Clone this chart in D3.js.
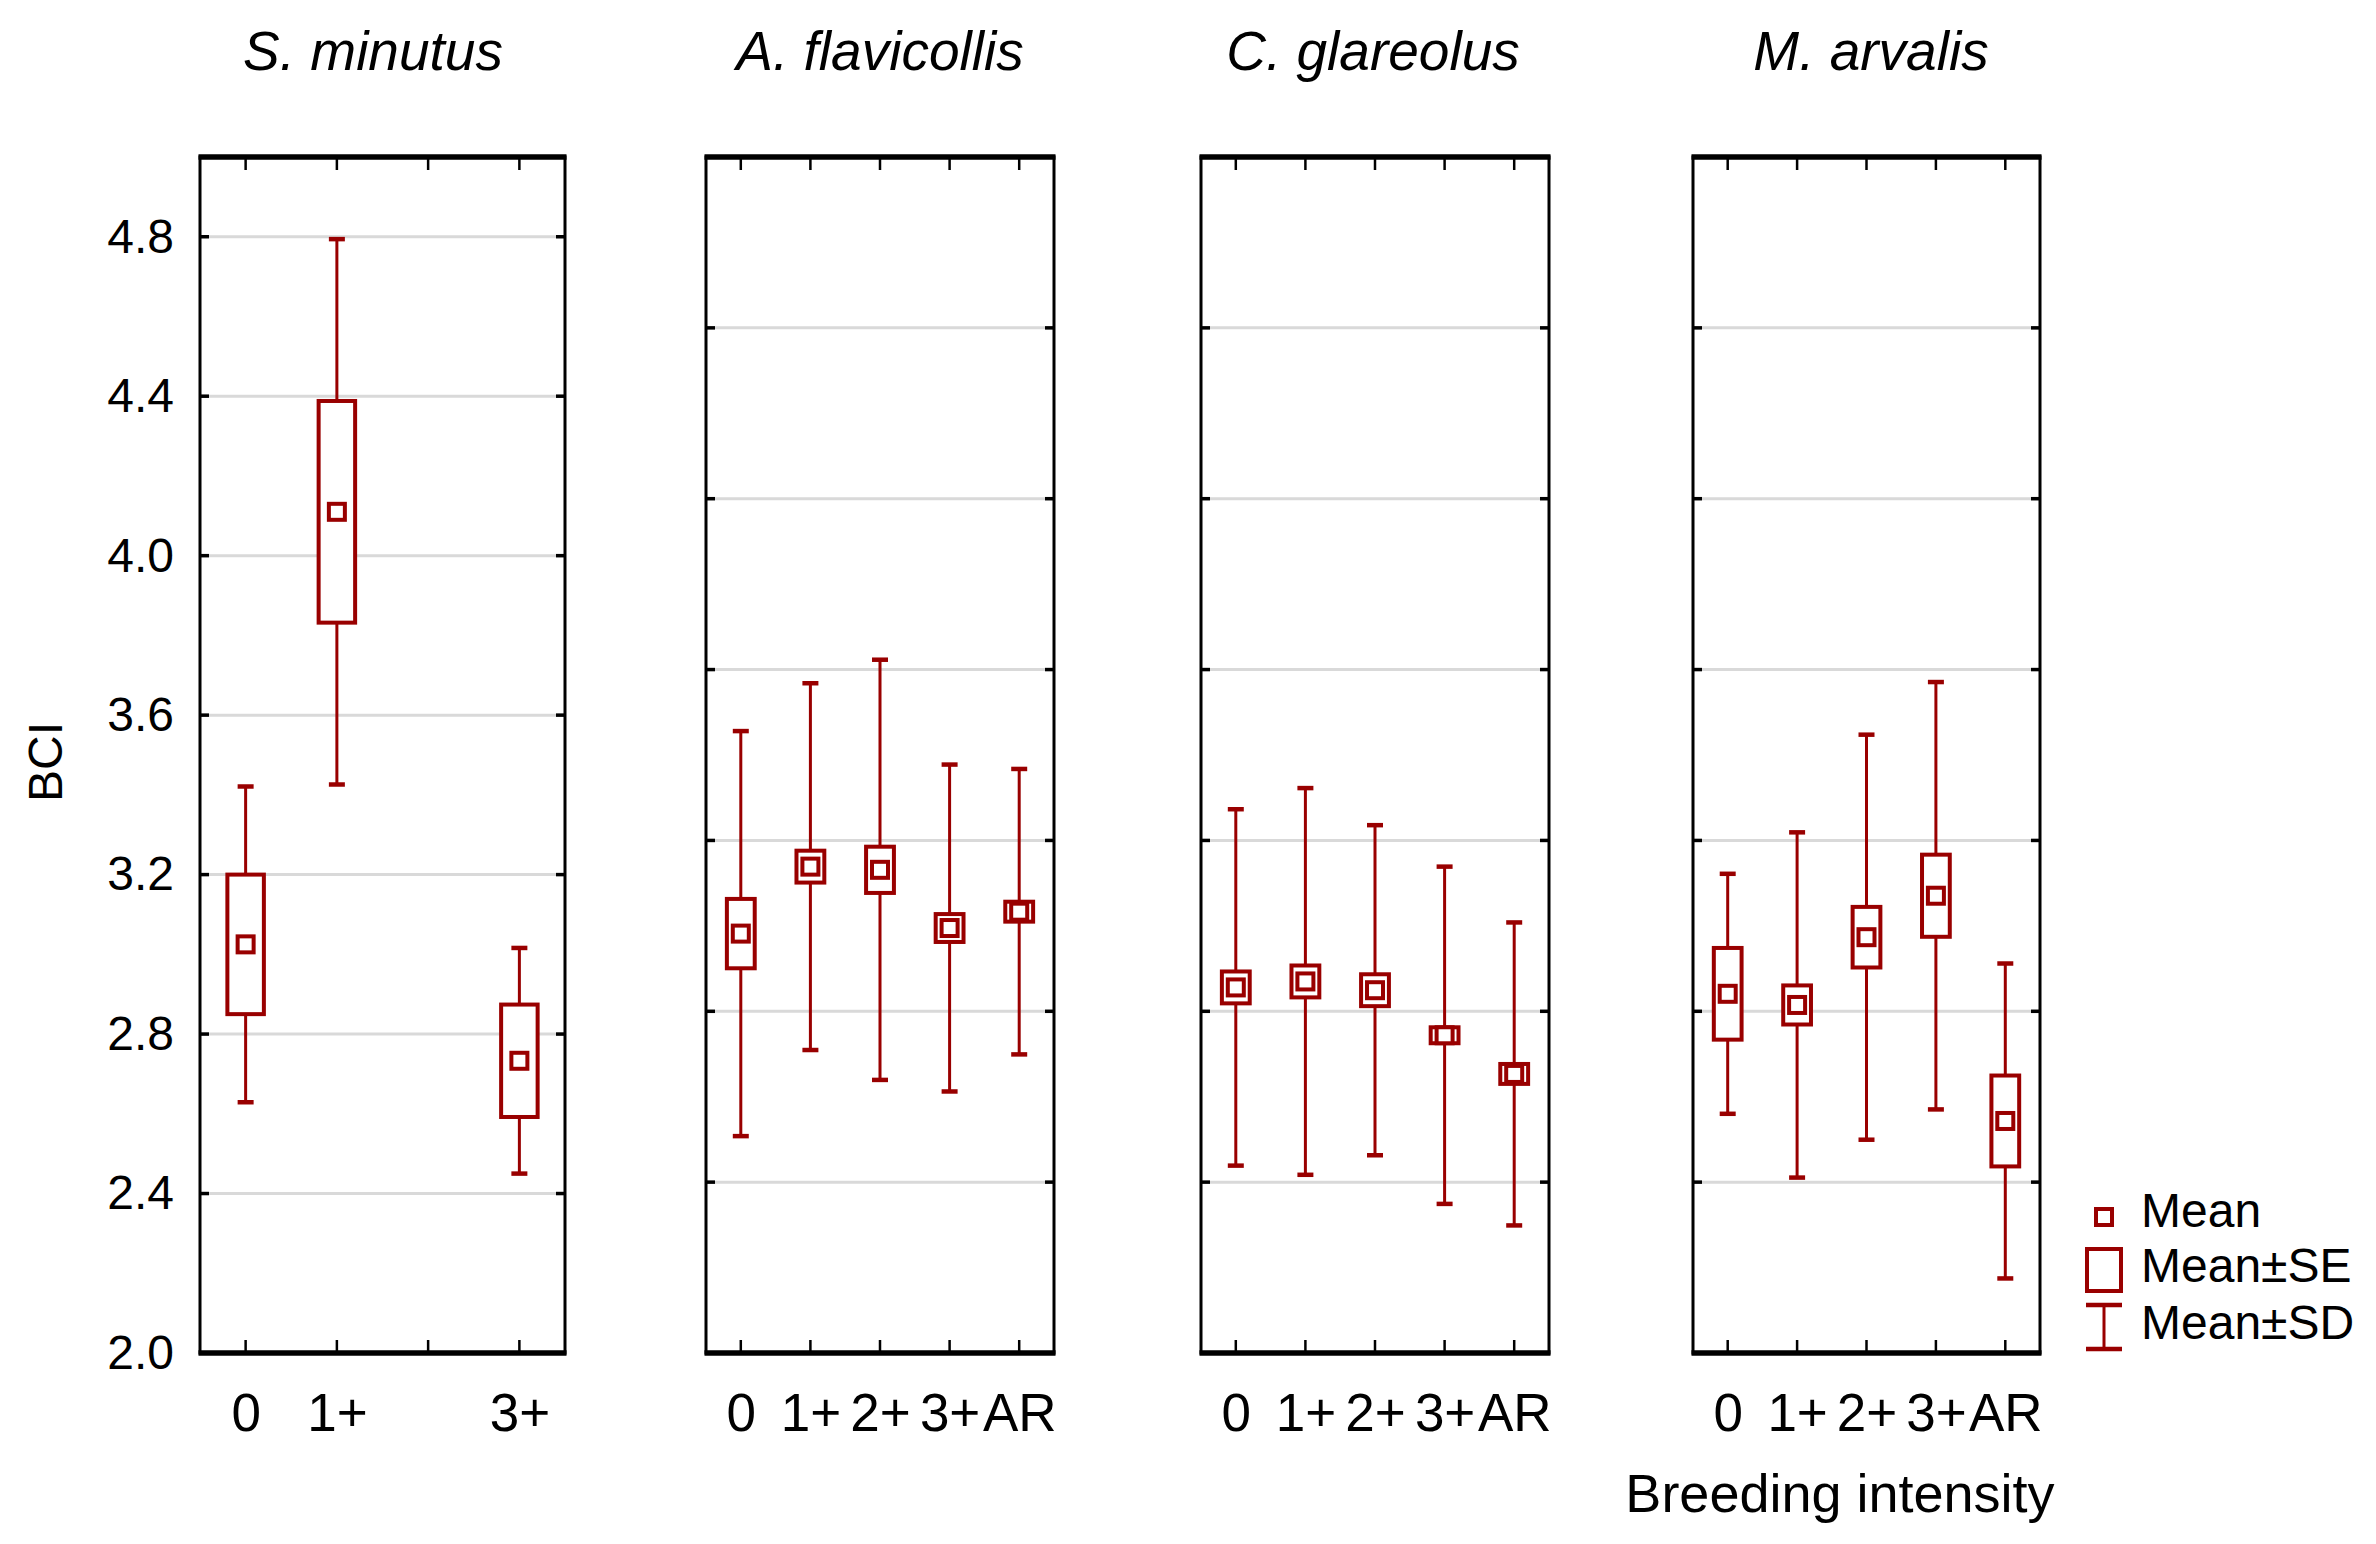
<!DOCTYPE html>
<html>
<head>
<meta charset="utf-8">
<script src="https://cdn.jsdelivr.net/npm/d3@7"></script>
<style>
  body { margin: 0; background: #fff; }
  text { font-family: "Liberation Sans", Arial, sans-serif; }
</style>
</head>
<body>
<svg id="chart"></svg>
<script>
// ---- data ----
const species = ["S. minutus", "A. flavicollis", "C. glareolus", "M. arvalis"];
const catsMinutus = ["0", "1+", "2+", "3+"];
const catsOther = ["0", "1+", "2+", "3+", "AR"];
const labelsMinutus = ["0", "1+", "3+"]; // no 2+ group for S. minutus

const meanSm = [3.025, 4.110, null, 2.733];
const seSm   = [0.175, 0.278, null, 0.141];
const sdSm   = [0.396, 0.684, null, 0.283];

const meanAf = [3.052, 3.220, 3.212, 3.066, 3.107];
const seAf   = [0.087, 0.040, 0.058, 0.035, 0.025];
const sdAf   = [0.508, 0.460, 0.527, 0.410, 0.358];

const meanCg = [2.917, 2.932, 2.910, 2.797, 2.700];
const seCg   = [0.040, 0.040, 0.040, 0.020, 0.025];
const sdCg   = [0.447, 0.485, 0.414, 0.423, 0.380];

const meanMa = [2.901, 2.873, 3.043, 3.147, 2.582];
const seMa   = [0.115, 0.049, 0.076, 0.103, 0.114];
const sdMa   = [0.301, 0.433, 0.508, 0.536, 0.395];

const yTicks = [2.0, 2.4, 2.8, 3.2, 3.6, 4.0, 4.4, 4.8];
// the other three panels have their grid split in sevenths of the range
const gridOther = [2.4286, 2.8571, 3.2857, 3.7143, 4.1429, 4.5714];

const legendItems = ["Mean", "Mean±SE", "Mean±SD"];

// ---- layout ----
const width = 2376, height = 1544;
const yTop = 157, yBottom = 1353;
const red = "#990000";

const panelX = [[200, 565], [706, 1054], [1201, 1549], [1693, 2040]];
const titleX = [373, 880, 1373, 1871];

const panels = [
  { name: species[0], cats: catsMinutus, labels: labelsMinutus, mean: meanSm, se: seSm, sd: sdSm, grid: yTicks },
  { name: species[1], cats: catsOther, labels: catsOther, mean: meanAf, se: seAf, sd: sdAf, grid: gridOther },
  { name: species[2], cats: catsOther, labels: catsOther, mean: meanCg, se: seCg, sd: sdCg, grid: gridOther },
  { name: species[3], cats: catsOther, labels: catsOther, mean: meanMa, se: seMa, sd: sdMa, grid: gridOther }
];

const svg = d3.select("#chart")
  .attr("width", width)
  .attr("height", height);

const y = d3.scaleLinear().domain([2, 5]).range([yBottom, yTop]);

panels.forEach((p, i) => {
  const [x0, x1] = panelX[i];
  const x = d3.scalePoint().domain(p.cats).range([x0, x1]).padding(0.5);
  const g = svg.append("g");

  // grid lines
  g.selectAll(".grid")
    .data(p.grid)
    .join("line")
    .attr("class", "grid")
    .attr("x1", x0).attr("x2", x1)
    .attr("y1", d => y(d)).attr("y2", d => y(d))
    .attr("stroke", "#d9d9d9")
    .attr("stroke-width", 3);

  // little black marks where grid meets the frame
  [x0, x1].forEach(ex => {
    g.selectAll(null)
      .data(p.grid)
      .join("line")
      .attr("x1", ex).attr("x2", ex === x0 ? ex + 9 : ex - 9)
      .attr("y1", d => y(d)).attr("y2", d => y(d))
      .attr("stroke", "#000")
      .attr("stroke-width", 3.5);
  });

  // frame
  g.append("rect")
    .attr("x", x0).attr("y", yTop)
    .attr("width", x1 - x0).attr("height", yBottom - yTop)
    .attr("fill", "none")
    .attr("stroke", "#000")
    .attr("stroke-width", 3);
  [yTop, yBottom].forEach(yy => {
    g.append("line")
      .attr("x1", x0 - 1.5).attr("x2", x1 + 1.5)
      .attr("y1", yy).attr("y2", yy)
      .attr("stroke", "#000")
      .attr("stroke-width", 5.5);
  });

  // category ticks, top and bottom, pointing inward
  g.selectAll(".tickTop")
    .data(p.cats)
    .join("line")
    .attr("x1", d => x(d)).attr("x2", d => x(d))
    .attr("y1", yTop).attr("y2", yTop + 13)
    .attr("stroke", "#000").attr("stroke-width", 2.5);
  g.selectAll(".tickBot")
    .data(p.cats)
    .join("line")
    .attr("x1", d => x(d)).attr("x2", d => x(d))
    .attr("y1", yBottom).attr("y2", yBottom - 13)
    .attr("stroke", "#000").attr("stroke-width", 2.5);

  // data rows
  const rows = p.cats
    .map((c, j) => ({ c: c, m: p.mean[j], se: p.se[j], sd: p.sd[j] }))
    .filter(d => d.m != null);
  const bw = x.step() * 0.4;

  // SD whiskers
  g.selectAll(".whisker")
    .data(rows)
    .join("line")
    .attr("x1", d => x(d.c)).attr("x2", d => x(d.c))
    .attr("y1", d => y(d.m + d.sd)).attr("y2", d => y(d.m - d.sd))
    .attr("stroke", red).attr("stroke-width", 3);

  // caps
  const caps = rows.flatMap(d => [{ c: d.c, v: d.m + d.sd }, { c: d.c, v: d.m - d.sd }]);
  g.selectAll(".cap")
    .data(caps)
    .join("line")
    .attr("x1", d => x(d.c) - 8).attr("x2", d => x(d.c) + 8)
    .attr("y1", d => y(d.v)).attr("y2", d => y(d.v))
    .attr("stroke", red).attr("stroke-width", 4.5);

  // SE boxes
  g.selectAll(".se")
    .data(rows)
    .join("rect")
    .attr("x", d => x(d.c) - bw / 2)
    .attr("width", bw)
    .attr("y", d => y(d.m + d.se))
    .attr("height", d => y(d.m - d.se) - y(d.m + d.se))
    .attr("fill", "#fff")
    .attr("stroke", red).attr("stroke-width", 4);

  // mean squares
  g.selectAll(".mean")
    .data(rows)
    .join("rect")
    .attr("x", d => x(d.c) - 8)
    .attr("y", d => y(d.m) - 8)
    .attr("width", 16).attr("height", 16)
    .attr("fill", "#fff")
    .attr("stroke", red).attr("stroke-width", 4);

  // title
  svg.append("text")
    .attr("x", titleX[i])
    .attr("y", 70)
    .attr("text-anchor", "middle")
    .attr("font-size", 55)
    .attr("font-style", "italic")
    .text(p.name);

  // category labels
  const xAxis = d3.axisBottom(x)
    .tickSize(0)
    .tickFormat(d => p.labels.includes(d) ? d : "");
  const ax = svg.append("g")
    .attr("transform", `translate(0, 1431)`)
    .call(xAxis);
  ax.select(".domain").remove();
  ax.selectAll("text")
    .attr("y", 0).attr("dy", 0)
    .attr("fill", "#000")
    .attr("font-size", 53)
    .attr("font-family", '"Liberation Sans", Arial, sans-serif');
});

// y axis labels
const yAxis = d3.axisLeft(y)
  .tickValues(yTicks)
  .tickSize(0)
  .tickPadding(26)
  .tickFormat(d3.format(".1f"));
const ya = svg.append("g")
  .attr("transform", `translate(${panelX[0][0]}, 0)`)
  .call(yAxis);
ya.select(".domain").remove();
ya.selectAll("text")
  .attr("fill", "#000")
  .attr("font-size", 48)
  .attr("font-family", '"Liberation Sans", Arial, sans-serif');

svg.append("text")
  .attr("transform", "translate(62, 762) rotate(-90)")
  .attr("text-anchor", "middle")
  .attr("font-size", 48)
  .text("BCI");

svg.append("text")
  .attr("x", 1840)
  .attr("y", 1512)
  .attr("text-anchor", "middle")
  .attr("font-size", 54)
  .text("Breeding intensity");

// legend
const lg = svg.append("g");
const lx = 2104, textX = 2141;
const rowsY = [1217, 1270, 1327];
lg.append("rect")
  .attr("x", lx - 8).attr("y", rowsY[0] - 8)
  .attr("width", 16).attr("height", 16)
  .attr("fill", "#fff").attr("stroke", red).attr("stroke-width", 4);
lg.append("rect")
  .attr("x", lx - 17).attr("y", rowsY[1] - 21)
  .attr("width", 34).attr("height", 42)
  .attr("fill", "#fff").attr("stroke", red).attr("stroke-width", 4);
lg.append("line")
  .attr("x1", lx).attr("x2", lx)
  .attr("y1", rowsY[2] - 22).attr("y2", rowsY[2] + 22)
  .attr("stroke", red).attr("stroke-width", 3);
[rowsY[2] - 22, rowsY[2] + 22].forEach(cy => {
  lg.append("line")
    .attr("x1", lx - 18).attr("x2", lx + 18)
    .attr("y1", cy).attr("y2", cy)
    .attr("stroke", red).attr("stroke-width", 4.5);
});
lg.selectAll(".lt")
  .data(legendItems)
  .join("text")
  .attr("x", textX)
  .attr("y", (d, i) => rowsY[i] + 10 + (i === 0 ? 0 : 2))
  .attr("font-size", 48)
  .text(d => d);
</script>
</body>
</html>
